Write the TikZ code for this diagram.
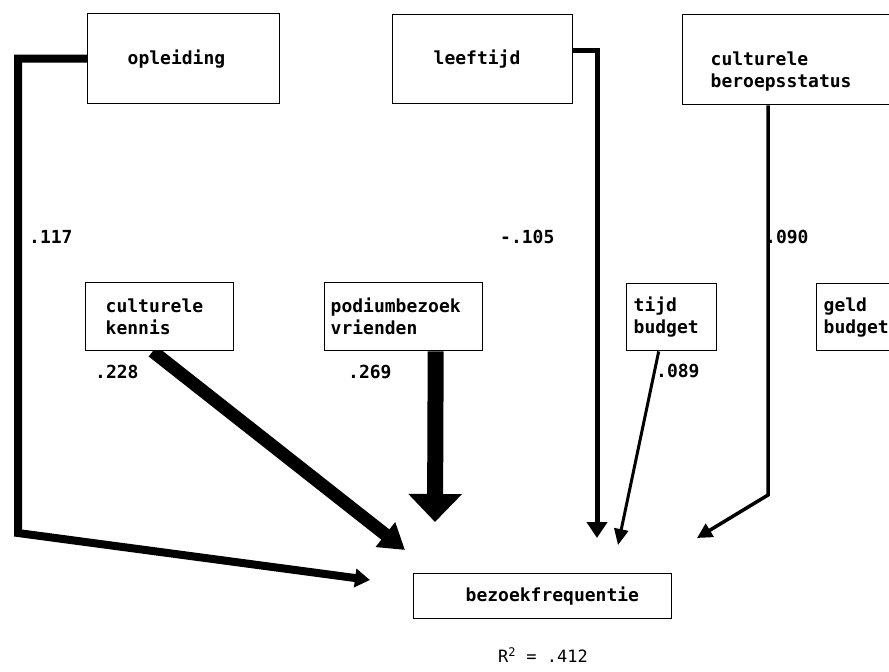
\documentclass[tikz,border=0pt]{standalone}
\usepackage{fontspec}
\newfontfamily\dmono{DejaVu Sans Mono}
\usetikzlibrary{arrows.meta,calc,backgrounds}
\begin{document}
\begin{tikzpicture}[x=1pt,y=-1pt,
  txt/.style={font=\dmono\bfseries\fontsize{18}{22}\selectfont},
  box/.style={txt, draw, fill=white, line width=1.4pt, anchor=north west, inner ysep=0pt, align=left},
  num/.style={txt, anchor=west, inner sep=0pt},
  conn/.style={draw=black, line join=miter},
]
\useasboundingbox (0,0) rectangle (889,672);
\clip (0,0) rectangle (889,672);

% boxes
\node[box, minimum width=192pt, minimum height=90pt, inner xsep=40pt, text width=112pt] (opl) at (87,13) {opleiding};
\node[box, minimum width=180pt, minimum height=89pt, inner xsep=41pt, text width=98pt] (leef) at (392,14) {leeftijd};
\node[box, minimum width=250pt, minimum height=90pt, inner xsep=28pt, text width=194pt] (ber) at (682,14) {\rule{0pt}{38pt}culturele\\beroepsstatus};
\node[box, minimum width=148pt, minimum height=68pt, inner xsep=20pt, text width=108pt] (ken) at (85,282) {culturele\\kennis};
\node[box, minimum width=158pt, minimum height=68pt, inner xsep=6pt, text width=146pt] (pod) at (324,282) {podiumbezoek\\vrienden};
\node[box, minimum width=90pt, minimum height=67pt, inner xsep=7pt, text width=76pt] (tijd) at (626,283) {tijd\\budget};
\node[box, minimum width=150pt, minimum height=67pt, inner xsep=7pt, text width=136pt] (geld) at (816,283) {geld\\budget};
\node[box, minimum width=258pt, minimum height=45pt, inner xsep=52pt, text width=154pt] (bez) at (413,573) {bezoekfrequentie};

% corner and tip coordinates
\coordinate (c-opl) at (18,533);
\coordinate (t-opl) at (370,580);
\coordinate (t-leef) at (597,538);
\coordinate (c-ber) at (768,495);
\coordinate (t-ber) at (697,538);
\coordinate (t-ken) at (405,550);
\coordinate (t-pod) at (435,522);
\coordinate (t-tijd) at (618,545);

\begin{scope}[on background layer]
\fill[white] (0,0) rectangle (889,672);
\draw[conn, line width=8pt, -{Triangle[width=18pt,length=15pt]}] (opl.west) -| (c-opl) -- (t-opl);
\draw[conn, line width=5pt, -{Triangle[width=20pt,length=16pt]}] ([yshift=8.5pt]leef.east) -| (t-leef);
\draw[conn, line width=3.5pt, -{Triangle[width=15pt,length=15pt]}] ($(ber.south west)+(86,0)$) -- (c-ber) -- (t-ber);
\draw[conn, line width=13pt, -{Triangle[width=30pt,length=25pt]}] ([xshift=-7pt]ken.south) -- (t-ken);
\draw[conn, line width=16pt, -{Triangle[width=52pt,length=28pt]}] ([xshift=32pt]pod.south) -- (t-pod);
\draw[conn, line width=3pt, -{Triangle[width=14pt,length=16pt]}] ([xshift=-13pt]tijd.south) -- (t-tijd);
\end{scope}

% coefficients
\node[num] (l117) at (29,237) {.117};
\node[num] (l105) at (500,237) {-.105};
\node[num] (l090) at (765,237) {.090};
\node[num] (l228) at (95,372) {.228};
\node[num] (l269) at (348,372) {.269};
\node[num] (l089) at (656,371) {.089};
\node[num, font=\dmono\fontsize{17}{20}\selectfont] (r2) at (498,655) {R\textsuperscript{2} = .412};
\end{tikzpicture}
\end{document}
